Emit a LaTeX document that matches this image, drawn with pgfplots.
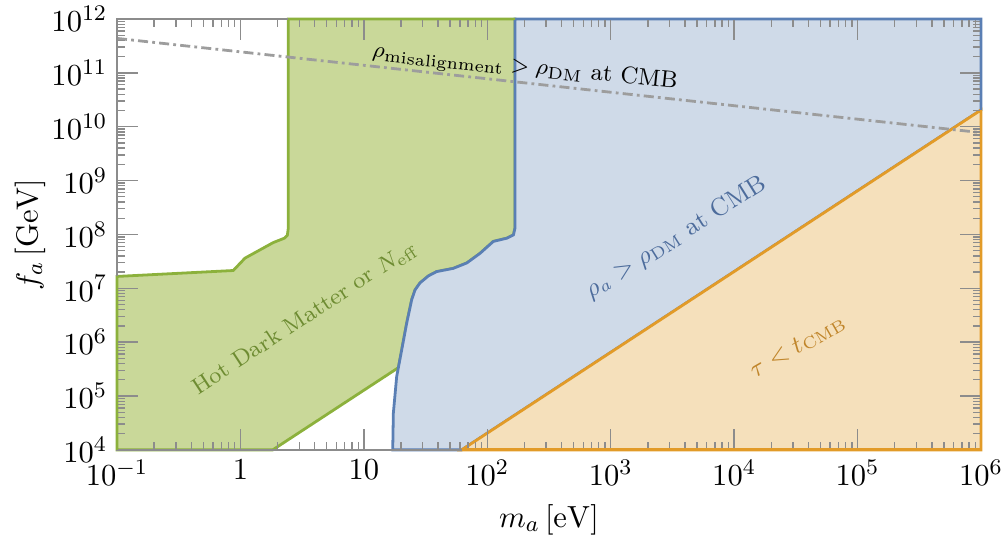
\documentclass[border=0pt]{standalone}
\usepackage{pgfplots}
\pgfplotsset{compat=1.18}
\definecolor{gfill}{HTML}{C9D899}
\definecolor{gline}{HTML}{8CB13C}
\definecolor{gtext}{HTML}{6E8C32}
\definecolor{bfill}{HTML}{CFDAE8}
\definecolor{bline}{HTML}{5A7FB4}
\definecolor{btext}{HTML}{4D6C9C}
\definecolor{ofill}{HTML}{F5E0BB}
\definecolor{oline}{HTML}{E29B28}
\definecolor{otext}{HTML}{C0852A}
\definecolor{framec}{HTML}{8C8C8C}
\begin{document}
\begin{tikzpicture}
\begin{axis}[
  scale only axis, width=309.8pt, height=154.5pt,
  xmode=log, ymode=log,
  xmin=0.1, xmax=1e6, ymin=1e4, ymax=1e12,
  set layers, axis on top, clip=false,
  xtick={0.1,1,10,100,1000,10000,100000,1000000},
  xticklabels={$10^{-1}$,$1$,$10$,$10^{2}$,$10^{3}$,$10^{4}$,$10^{5}$,$10^{6}$},
  minor xtick={0.2,0.3,0.4,0.5,0.6,0.7,0.8,0.9,
    2,3,4,5,6,7,8,9, 20,30,40,50,60,70,80,90,
    200,300,400,500,600,700,800,900,
    2e3,3e3,4e3,5e3,6e3,7e3,8e3,9e3,
    2e4,3e4,4e4,5e4,6e4,7e4,8e4,9e4,
    2e5,3e5,4e5,5e5,6e5,7e5,8e5,9e5},
  ytick={1e4,1e5,1e6,1e7,1e8,1e9,1e10,1e11,1e12},
  minor ytick={2e4,3e4,4e4,5e4,6e4,7e4,8e4,9e4,
    2e5,3e5,4e5,5e5,6e5,7e5,8e5,9e5,
    2e6,3e6,4e6,5e6,6e6,7e6,8e6,9e6,
    2e7,3e7,4e7,5e7,6e7,7e7,8e7,9e7,
    2e8,3e8,4e8,5e8,6e8,7e8,8e8,9e8,
    2e9,3e9,4e9,5e9,6e9,7e9,8e9,9e9,
    2e10,3e10,4e10,5e10,6e10,7e10,8e10,9e10,
    2e11,3e11,4e11,5e11,6e11,7e11,8e11,9e11},
  tick align=inside,
  major tick length=7.5pt, minor tick length=2.8pt,
  tick style={framec, line width=0.5pt},
  axis line style={framec, line width=0.6pt},
  tick label style={font=\fontsize{11}{13}\selectfont, black},
  label style={font=\fontsize{11}{13}\selectfont},
  xlabel={$m_a\,[\mathrm{eV}]$},
  ylabel={$f_a\,[\mathrm{GeV}]$},
  xlabel style={at={(axis description cs:0.5,-0.162)}, anchor=center},
  ylabel style={at={(axis description cs:-0.1007,0.5)}, anchor=center},
]
% Green region (Hot Dark Matter or N_eff)
\addplot[fill=gfill, draw=gline, line width=1pt] coordinates {
 (0.1,1.660e7) (0.875,2.138e7) (1.089,3.631e7) (1.849,7.079e7) (2.270,8.511e7)
 (2.40,9.6e7) (2.443,1.318e8) (2.443,1e12) (167.9,1e12) (167.9,1.318e8)
 (162.9,9.772e7) (143.9,8.511e7) (111.9,7.413e7) (87.50,4.467e7) (68.23,2.951e7)
 (53.09,2.344e7) (38.90,2.042e7) (33.34,1.698e7) (28.51,1.259e7) (26.00,9.333e6)
 (24.43,6.166e6) (22.23,2.239e6) (20.28,7.244e5) (19.05,3.362e5)
 (1.828,1e4) (0.1,1e4)} -- cycle;
% Blue region (rho_a > rho_DM)
\addplot[fill=bfill, draw=bline, line width=1pt] coordinates {
 (17.14,1e4) (17.34,4.786e4) (18.45,2.291e5) (20.28,7.244e5) (22.23,2.239e6)
 (24.43,6.166e6) (26.00,9.333e6) (28.51,1.259e7) (33.34,1.698e7) (38.90,2.042e7)
 (53.09,2.344e7) (68.23,2.951e7) (87.50,4.467e7) (111.9,7.413e7) (143.9,8.511e7)
 (162.9,9.772e7) (167.9,1.318e8) (167.9,1e12) (1e6,1e12) (1e6,2.042e10)
 (62.1,1e4)} -- cycle;
% Orange region (tau < t_CMB)
\addplot[fill=ofill, draw=oline, line width=1pt] coordinates {
 (62.1,1e4) (1e6,2.042e10) (1e6,1e4)} -- cycle;
% outer edges redrawn above the frame
\addplot[gline, line width=1pt, on layer=axis foreground] coordinates {(0.1,1e4) (0.1,1.660e7)};
\addplot[gline, line width=1pt, on layer=axis foreground] coordinates {(2.443,1e12) (167.9,1e12)};
\addplot[bline, line width=1pt, on layer=axis foreground] coordinates {(167.9,1e12) (1e6,1e12) (1e6,2.042e10)};
\addplot[oline, line width=1pt, on layer=axis foreground] coordinates {(1e6,2.042e10) (1e6,1e4) (62.1,1e4)};
% misalignment line
\addplot[framec!85, line width=1pt, dash pattern=on 3.6pt off 1.5pt on 1pt off 1.5pt] coordinates {(0.1,4.365e11) (1e6,7.762e9)};
% labels
\node[rotate=-6, font=\fontsize{8.5}{10}\selectfont] at (axis cs:202,1.23e11) {$\rho_{\mathrm{misalignment}} > \rho_{\mathrm{DM}}$ at CMB};
\node[rotate=33.3, text=gtext, font=\fontsize{8.2}{10}\selectfont] at (axis cs:3.35,2.82e6) {Hot Dark Matter or $N_{\mathrm{eff}}$};
\node[rotate=32, text=btext, font=\fontsize{9}{11}\selectfont] at (axis cs:3388,8.71e7) {$\rho_a > \rho_{\mathrm{DM}}$ at CMB};
\node[rotate=30, text=otext, font=\fontsize{8.6}{10}\selectfont] at (axis cs:32730,8.32e5) {$\tau < t_{\mathrm{CMB}}$};
\end{axis}
\pgfresetboundingbox
\path[use as bounding box] (-41.95pt,-34.4pt) rectangle (318.05pt,161.31pt);
\end{tikzpicture}
\end{document}
